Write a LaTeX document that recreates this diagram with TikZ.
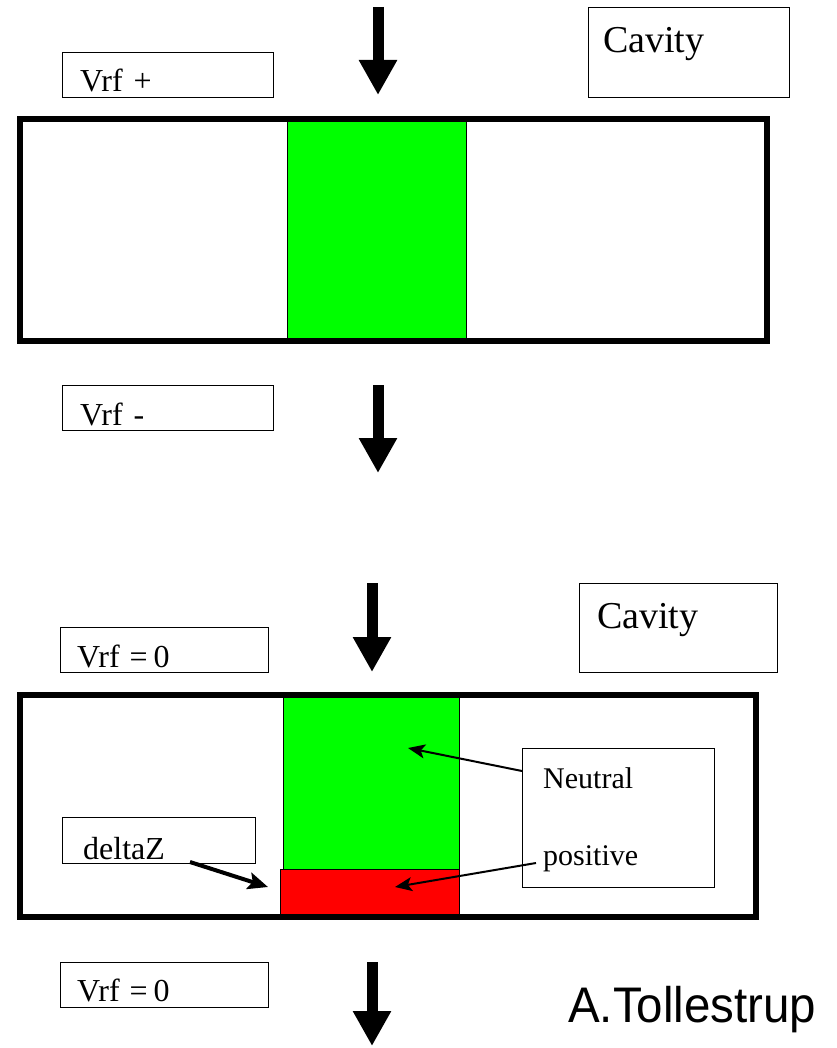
\documentclass[tikz,border=0pt]{standalone}
\usepackage{fontspec}
\setmainfont{Liberation Serif}
\newfontfamily\signfont[FakeStretch=0.95]{Liberation Sans}
\usetikzlibrary{arrows.meta}

\begin{document}
\begin{tikzpicture}[x=1pt,y=-1pt,
  frame/.style={draw=black, line width=6pt},
  region/.style={draw=black, line width=1pt, inner sep=0pt, anchor=north west},
  lbl/.style={draw=black, line width=1.3pt, inner sep=0pt, anchor=north west},
  txt/.style={anchor=base west, inner sep=0pt, font=\fontsize{32}{36}\selectfont},
  cavtxt/.style={anchor=base west, inner sep=0pt, font=\fontsize{38}{44}\selectfont},
  beam/.style={line width=11pt, -{Triangle[width=36pt,length=35pt]}},
  pointer/.style={line width=2pt, -{Stealth[length=17pt,width=14pt,inset=4pt]}},
  thickpointer/.style={line width=4pt, -{Stealth[length=20pt,width=17pt,inset=4pt]}},
]
\useasboundingbox (0,0) rectangle (836,1048);

% ---------- upper panel: Vrf +/- ----------
\node[region, fill=green, minimum width=179pt, minimum height=222pt] (g1) at (287,119) {};
\draw[frame] (20,119) rectangle (767,341);

\node[lbl, minimum width=211pt, minimum height=45pt] (vplus) at (62,52) {};
\node[txt] (vplust) at (80,92) {Vrf\hspace{11pt}+};

\node[lbl, minimum width=201pt, minimum height=90pt] (cav1) at (588,7) {};
\node[cavtxt] (cav1t) at (603,53) {Cavity};

\coordinate (b1s) at (378,7);
\coordinate (b1e) at (378,95);
\draw[beam] (b1s) -- (b1e);

\node[lbl, minimum width=211pt, minimum height=45pt] (vminus) at (62,385) {};
\node[txt] (vminust) at (80,425) {Vrf\hspace{11pt}-};

\coordinate (b2s) at (378,385);
\coordinate (b2e) at (378,473);
\draw[beam] (b2s) -- (b2e);

% ---------- lower panel: Vrf = 0 ----------
\node[region, fill=green, minimum width=176pt, minimum height=174pt] (g2) at (283,695) {};
\node[region, fill=red, minimum width=179pt, minimum height=48pt] (r2) at (280,869) {};
\draw[frame] (20,695) rectangle (756,917);

\coordinate (b3s) at (372,583);
\coordinate (b3e) at (372,672);
\draw[beam] (b3s) -- (b3e);

\node[lbl, minimum width=208pt, minimum height=45pt] (vzero1) at (60,627) {};
\node[txt] (vzero1t) at (77,667) {Vrf\hspace{10pt}=\hspace{6pt}0};

\node[lbl, minimum width=198pt, minimum height=89pt] (cav2) at (579,583) {};
\node[cavtxt] (cav2t) at (597,628) {Cavity};

\node[lbl, minimum width=192pt, minimum height=139pt] (np) at (522,748) {};
\node[txt, font=\fontsize{30}{34}\selectfont] (neut) at (543,788) {Neutral};
\node[txt, font=\fontsize{30}{34}\selectfont] (posi) at (543,865) {positive};

\node[lbl, minimum width=193pt, minimum height=46pt] (dz) at (62,817) {};
\node[txt] (dzt) at (83,859) {deltaZ};

\coordinate (neuS) at (522,771);
\coordinate (neuE) at (408,748);
\draw[pointer] (neuS) -- (neuE);

\coordinate (posS) at (536,863);
\coordinate (posE) at (395,887);
\draw[pointer] (posS) -- (posE);

\coordinate (dzS) at (190,862);
\coordinate (dzE) at (268,887);
\draw[thickpointer] (dzS) -- (dzE);

\node[lbl, minimum width=208pt, minimum height=45pt] (vzero2) at (60,962) {};
\node[txt] (vzero2t) at (77,1001) {Vrf\hspace{10pt}=\hspace{6pt}0};

\coordinate (b4s) at (372,962);
\coordinate (b4e) at (372,1046);
\draw[beam] (b4s) -- (b4e);

\node[anchor=base west, inner sep=0pt, font=\signfont\fontsize{50}{56}\selectfont] (auth) at (568,1022) {A.Tollestrup};
\end{tikzpicture}
\end{document}
